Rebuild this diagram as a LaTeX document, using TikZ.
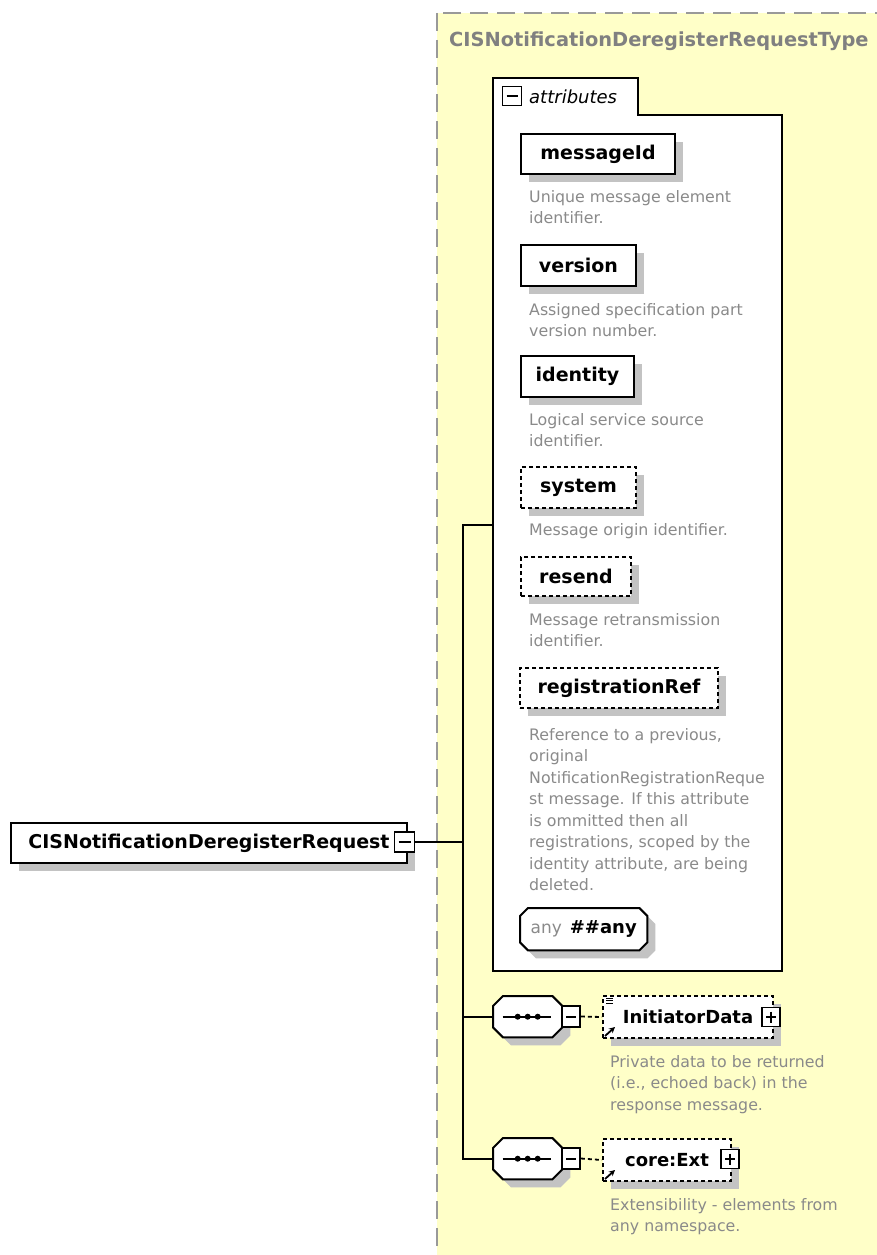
\documentclass[tikz,border=0pt]{standalone}
\usepackage{fontspec}
\setmainfont{DejaVu Sans}
\usetikzlibrary{shadows,arrows.meta}
\definecolor{ybg}{HTML}{FFFFC8}
\definecolor{bordergray}{HTML}{999999}
\definecolor{titlegray}{HTML}{808080}
\definecolor{descgray}{HTML}{8A8A8A}
\definecolor{shadowgray}{HTML}{C3C3C3}
\newcommand\tstrut{\rule{0pt}{13pt}}
\tikzset{
  shd/.style={drop shadow={shadow xshift=8pt, shadow yshift=-8pt, fill=shadowgray, opacity=1}},
  elembox/.style={draw=black, line width=2pt, fill=white, inner sep=0pt, anchor=north west,
    font=\fontsize{19}{23}\selectfont\bfseries, shd},
  optbox/.style={elembox, dash pattern=on 4pt off 3pt},
  desctext/.style={anchor=north west, inner sep=0pt, align=left, text=descgray,
    font=\fontsize{15.8}{21.5}\selectfont},
  iconbox/.style={draw=black, line width=1.8pt, fill=white, minimum width=18pt,
    minimum height=19pt, inner sep=0pt},
  minusbox/.style={iconbox, path picture={\draw[line width=2pt]
    ([xshift=4pt]path picture bounding box.west) -- ([xshift=-4pt]path picture bounding box.east);}},
  plusbox/.style={iconbox, path picture={\draw[line width=2pt]
    ([xshift=4pt]path picture bounding box.west) -- ([xshift=-4pt]path picture bounding box.east);
    \draw[line width=2pt]
    ([yshift=-4pt]path picture bounding box.north) -- ([yshift=4pt]path picture bounding box.south);}},
  geom/.style={draw=none, fill=none, inner sep=0pt, anchor=north west},
  octshape/.style={draw=black, line width=2pt, fill=white, shd},
  conn/.style={line width=2pt, black},
  optconn/.style={line width=1.8pt, black, dash pattern=on 4pt off 3pt},
  refarrow/.style={line width=1.8pt, -{Stealth[length=6pt,width=6pt]}},
}
\begin{document}
\begin{tikzpicture}[x=1pt,y=-1pt]
\useasboundingbox (0,0) rectangle (877,1255);
\fill[white] (0,0) rectangle (877,1255);
\begin{scope}
  \clip (0,0) rectangle (877,1255);
  \draw[bordergray, line width=2pt, dash pattern=on 18pt off 9pt, fill=ybg] (437,13) rectangle (900,1290);
\end{scope}
\node[anchor=base west, inner sep=0pt, text=titlegray, font=\fontsize{19.4}{23}\selectfont\bfseries]
  (ttl) at (449,47) {CISNotificationDeregisterRequestType};

% attributes group
\node[geom, minimum width=289pt, minimum height=893pt] (attrs) at (493,78) {};
\draw[line width=2pt, fill=white] (attrs.north west) -- ++(145,0) -- ++(0,37) -- (attrs.east |- 0,115)
  -- (attrs.south east) -- (attrs.south west) -- cycle;
\node[minusbox, minimum width=19pt] (attrm) at (512,96) {};
\node[anchor=base west, inner sep=0pt, font=\fontsize{18}{22}\selectfont\itshape] (attrl) at (529,103) {attributes};

\node[elembox, minimum width=154pt, minimum height=40pt] (msg) at (520,133) {messageId};
\node[desctext] (msgd) at (529,189) {\tstrut Unique message element\\identifier.};
\node[elembox, minimum width=115pt, minimum height=41pt] (ver) at (520,244) {version};
\node[desctext] (verd) at (529,302) {\tstrut Assigned specification part\\version number.};
\node[elembox, minimum width=113pt, minimum height=41pt] (ident) at (520,355) {identity};
\node[desctext] (identd) at (529,412) {\tstrut Logical service source\\identifier.};
\node[optbox, minimum width=115pt, minimum height=41pt] (sys) at (520,466) {system};
\node[desctext] (sysd) at (529,522) {\tstrut Message origin identifier.};
\node[optbox, minimum width=110pt, minimum height=39pt] (res) at (520,556) {resend};
\node[desctext] (resd) at (529,612) {\tstrut Message retransmission\\identifier.};
\node[optbox, minimum width=198pt, minimum height=40pt] (reg) at (519,667) {registrationRef};
\node[desctext] (regd) at (529,727) {\tstrut Reference to a previous,\\original\\NotificationRegistrationReque\\st message. If this attribute\\is ommitted then all\\registrations, scoped by the\\identity attribute, are being\\deleted.};

% any wildcard (octagon)
\node[geom, minimum width=127pt, minimum height=42pt] (anyw) at (520,908) {};
\draw[octshape] ([xshift=8pt]anyw.north west) -- ([xshift=-8pt]anyw.north east) -- ([yshift=-8pt]anyw.north east)
  -- ([yshift=8pt]anyw.south east) -- ([xshift=-8pt]anyw.south east) -- ([xshift=8pt]anyw.south west)
  -- ([yshift=8pt]anyw.south west) -- ([yshift=-8pt]anyw.north west) -- cycle;
\node[inner sep=0pt] (anyt) at (anyw.center)
  {{\color{descgray}\fontsize{17}{20}\selectfont any}\hspace{8pt}{\fontsize{18}{20}\selectfont\bfseries\#\#any}};

% root
\node[elembox, minimum width=396pt, minimum height=40pt] (root) at (10,822) {CISNotificationDeregisterRequest};
\node[minusbox, minimum width=20pt, minimum height=20pt] (rootm) at (404.5,842) {};

% sequence compositors
\node[geom, minimum width=69pt, minimum height=41pt] (seq1) at (493,996) {};
\node[geom, minimum width=69pt, minimum height=41pt] (seq2) at (493,1138) {};
\foreach \s in {seq1,seq2} {
  \draw[octshape] ([xshift=10pt]\s.north west) -- ([xshift=-10pt]\s.north east) -- ([yshift=-10pt]\s.north east)
    -- ([yshift=10pt]\s.south east) -- ([xshift=-10pt]\s.south east) -- ([xshift=10pt]\s.south west)
    -- ([yshift=10pt]\s.south west) -- ([yshift=-10pt]\s.north west) -- cycle;
  \draw[line width=2.2pt] ([xshift=-25pt]\s.center) -- ([xshift=23pt]\s.center);
  \foreach \dx in {-10,0,10} \fill[black] ([xshift=\dx pt]\s.center) circle (3pt);
}

% sequence 1 content
\node[minusbox, minimum height=21pt] (seq1m) at (571,1016.5) {};
\node[optbox, minimum width=170pt, minimum height=42pt, font=\fontsize{18}{22}\selectfont\bfseries]
  (init) at (602,995) {InitiatorData\hspace{11pt}};
\node[plusbox] (initp) at (771,1017) {};
\draw[line width=0.9pt] ([xshift=4pt,yshift=-3pt]init.north west) -- ++(7,0)
  ([xshift=4pt,yshift=-5.5pt]init.north west) -- ++(7,0)
  ([xshift=4pt,yshift=-8pt]init.north west) -- ++(7,0);
\draw[refarrow] ([xshift=3pt,yshift=3pt]init.south west) -- ++(10,-9);
\node[desctext] (initd) at (610,1054) {\tstrut Private data to be returned\\(i.e., echoed back) in the\\response message.};

% sequence 2 content
\node[minusbox, minimum height=21pt] (seq2m) at (571,1158.5) {};
\node[optbox, minimum width=128pt, minimum height=42pt, font=\fontsize{18}{22}\selectfont\bfseries]
  (core) at (602,1138) {core:Ext\hspace{9pt}};
\node[plusbox] (corep) at (730,1159) {};
\draw[refarrow] ([xshift=3pt,yshift=3pt]core.south west) -- ++(10,-9);
\node[desctext] (cored) at (610,1197) {\tstrut Extensibility - elements from\\any namespace.};

% connectors
\coordinate (bus) at (463,0);
\draw[conn] (rootm.east) -- (bus |- rootm.east);
\draw[conn] (attrs.west) -| (bus |- seq2.west) -- (seq2.west);
\draw[conn] (bus |- seq1.west) -- (seq1.west);
\draw[optconn] (seq1m.east) -- (init.west);
\draw[optconn] (seq2m.east) -- (core.west);
\end{tikzpicture}
\end{document}
